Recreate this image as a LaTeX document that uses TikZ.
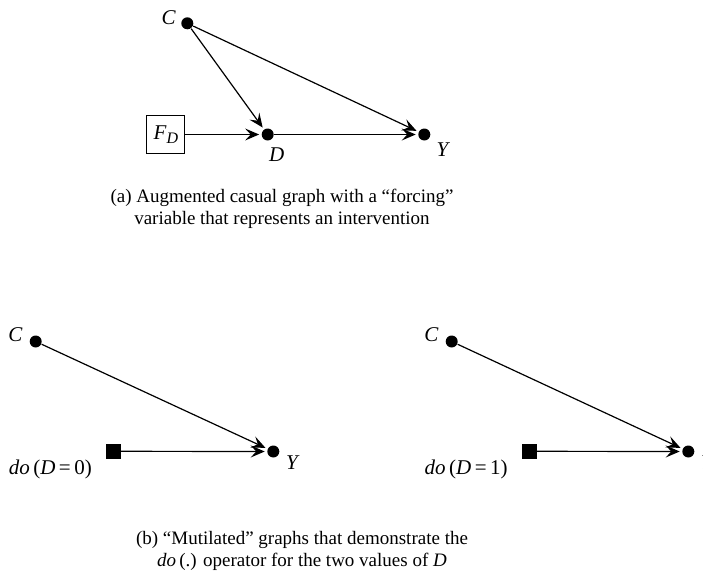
\documentclass[tikz,border=0pt]{standalone}
\usepackage{fontspec}
\setmainfont{Liberation Serif}
\usetikzlibrary{arrows.meta, positioning}
\tikzset{
  dag/.style={
    font=\fontsize{9.5}{11}\selectfont,
    >={Stealth[length=7pt, width=6pt, inset=2.8pt]},
    line width=0.6pt,
    x=0.5pt, y=-0.5pt,
  },
  vardot/.style={circle, fill=black, inner sep=0pt, minimum size=6pt},
  forcebox/.style={draw=black, line width=0.5pt, inner sep=0pt, minimum size=19pt},
  setbox/.style={fill=black, inner sep=0pt, minimum size=7.3pt},
  varlbl/.style={inner sep=0pt, font=\fontsize{10.5}{12}\selectfont\itshape},
  causal/.style={->, shorten >=1pt},
  caplbl/.style={align=center, inner sep=0pt},
}

\begin{document}
\begin{tikzpicture}[dag]
  \useasboundingbox (0,0) rectangle (703,578);

  % (a) augmented graph
  \node[vardot] (c) at (187.3,23.3) {};
  \node[vardot] (d) at (267.7,134.5) {};
  \node[vardot] (y) at (424.3,134.5) {};
  \node[forcebox] (fd) at (165.8,134.5) {\fontsize{10.5}{12}\selectfont\textit{F}\raisebox{-0.4ex}{\fontsize{8}{8}\selectfont\textit{D}}};

  \node[varlbl, left=2.2pt of c, yshift=2.6pt] (clbl) {C};
  \node[varlbl, below=3pt of d, xshift=4.5pt] (dlbl) {D};
  \node[varlbl, right=2.6pt of y, yshift=-7.8pt] (ylbl) {Y};

  \draw[causal] (c) -- (d);
  \draw[causal] (c) -- (y);
  \draw[causal] (fd) -- (d);
  \draw[causal] (d) -- (y);

  \node[caplbl] (capa) at (282,209) {(a) Augmented casual graph with a “forcing”\\variable that represents an intervention};

  % (b) mutilated graphs, do(D=0)
  \node[vardot] (c0) at (35.7,341.5) {};
  \node[vardot] (y0) at (273.3,451.5) {};
  \node[setbox] (s0) at (113.3,451.3) {};
  \node[varlbl, left=3pt of c0, yshift=3.4pt] (c0lbl) {C};
  \node[varlbl, right=2.8pt of y0, yshift=-5.8pt] (y0lbl) {Y};
  \node[varlbl, left=6.5pt of s0, yshift=-9.3pt, font=\fontsize{10.5}{12}\selectfont] (do0) {\textit{do}\,(\textit{D}\,=\,0)};
  \draw[causal] (c0) -- (y0);
  \draw[causal] (s0) -- (y0);

  % do(D=1)
  \node[vardot] (c1) at (451.7,341.5) {};
  \node[vardot] (y1) at (688.3,451.5) {};
  \node[setbox] (s1) at (529.2,451.3) {};
  \node[varlbl, left=3pt of c1, yshift=3.4pt] (c1lbl) {C};
  \node[varlbl, right=2.8pt of y1, yshift=-5.8pt] (y1lbl) {Y};
  \node[varlbl, left=6.5pt of s1, yshift=-9.3pt, font=\fontsize{10.5}{12}\selectfont] (do1) {\textit{do}\,(\textit{D}\,=\,1)};
  \draw[causal] (c1) -- (y1);
  \draw[causal] (s1) -- (y1);

  \node[caplbl] (capb) at (302,551) {(b) “Mutilated” graphs that demonstrate the\\\textit{do}\,(.) operator for the two values of \textit{D}};
\end{tikzpicture}
\end{document}
